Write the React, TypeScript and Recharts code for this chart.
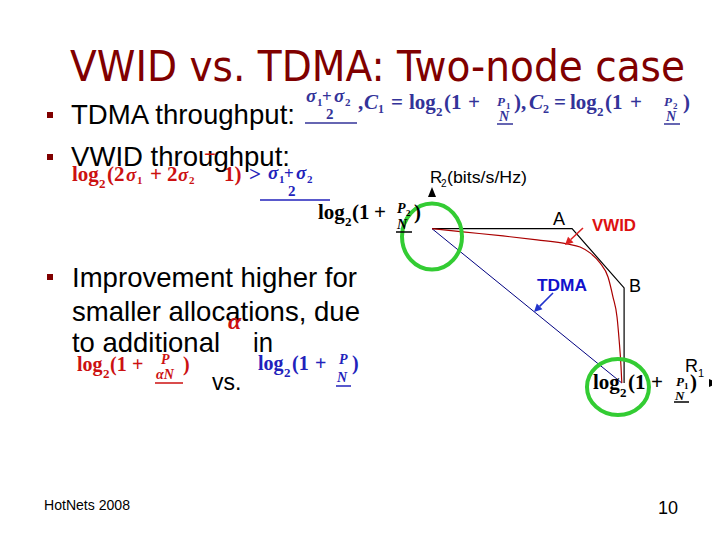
import { LineChart, Line, XAxis, YAxis, ReferenceDot } from 'recharts';

// rates in units of C1 (R1) and C2 (R2)
const vwidR1 = [0, 0.162, 0.371, 0.549, 0.706, 0.774, 0.826, 0.878, 0.92, 0.946, 0.967, 0.978, 0.988, 0.992];
const vwidR2 = [1, 0.979, 0.953, 0.927, 0.901, 0.881, 0.843, 0.778, 0.687, 0.557, 0.428, 0.279, 0.104, 0];
const tdmaR1 = [0, 0.992];
const tdmaR2 = [1, 0];
const regionR1 = [0, 0.732, 1.004, 1.004];
const regionR2 = [1, 1, 0.616, 0];
const r1Domain = [0, 1.5];
const r2Domain = [0, 1.27];

const pts = (xs: number[], ys: number[]) => xs.map((r1, i) => ({ r1, r2: ys[i] }));
const vwidData = pts(vwidR1, vwidR2);
const tdmaData = pts(tdmaR1, tdmaR2);
const regionData = pts(regionR1, regionR2);

const serif = '"Liberation Serif", "Times New Roman", serif';
const sans = '"Liberation Sans", Arial, sans-serif';
const maroon = '#800000';
const navy = '#333399';
const red = '#cc1111';
const blue = '#2222bb';

const ArrowRight = (p: any) => (
  <polygon points={`${p.cx},${p.cy} ${p.cx - 10},${p.cy - 4} ${p.cx - 10},${p.cy + 4}`} fill="#000" />
);
const ArrowUp = (p: any) => (
  <polygon points={`${p.cx},${p.cy} ${p.cx - 4},${p.cy + 10} ${p.cx + 4},${p.cy + 10}`} fill="#000" />
);
const ring = (rx: number, ry: number) => (p: any) => (
  <ellipse cx={p.cx} cy={p.cy} rx={rx} ry={ry} fill="none" stroke="#33cc33" strokeWidth={4} />
);
const pointer = (dx: number, dy: number, color: string) => (p: any) => {
  const len = Math.hypot(dx, dy);
  const ux = dx / len;
  const uy = dy / len;
  const hx = p.cx + ux * 8;
  const hy = p.cy + uy * 8;
  return (
    <g>
      <line x1={p.cx + dx} y1={p.cy + dy} x2={hx} y2={hy} stroke={color} strokeWidth={1.6} />
      <polygon points={`${p.cx},${p.cy} ${hx - uy * 4},${hy + ux * 4} ${hx + uy * 4},${hy - ux * 4}`} fill={color} />
    </g>
  );
};

function T({ x, y, s, c = '#000', f = serif, b = true, i = false, len, children }: any) {
  return (
    <text
      x={x}
      y={y}
      fontSize={s}
      fill={c}
      fontFamily={f}
      fontWeight={b ? 'bold' : 'normal'}
      fontStyle={i ? 'italic' : 'normal'}
      textLength={len}
      lengthAdjust={len ? 'spacingAndGlyphs' : undefined}
    >
      {children}
    </text>
  );
}

function Bar({ x1, x2, y, c }: any) {
  return <line x1={x1} x2={x2} y1={y} y2={y} stroke={c} strokeWidth={1.5} />;
}

function Slide() {
  return (
    <svg width={720} height={540} style={{ position: 'absolute', left: 0, top: 0, pointerEvents: 'none' }}>
      <T x={70} y={81} s={42} c={maroon} f='"DejaVu Sans", sans-serif' b={false} len={615}>
        VWID vs. TDMA: Two-node case
      </T>

      {[115, 157, 277].map((y) => (
        <rect key={y} x={47} y={y - 3} width={6} height={6} fill={maroon} />
      ))}

      <T x={71} y={124} s={28} f={sans} b={false} len={224}>TDMA throughput:</T>
      <T x={71} y={166} s={28} f={sans} b={false} len={219}>VWID throughput:</T>
      <T x={72} y={287} s={28} f={sans} b={false} len={285}>Improvement higher for</T>
      <T x={72} y={321} s={28} f={sans} b={false} len={288}>smaller allocations, due</T>
      <T x={72} y={352} s={28} f={sans} b={false} len={148}>to additional</T>
      <T x={253} y={352} s={28} f={sans} b={false} len={20}>in</T>
      <T x={228} y={329} s={24} c={red} i>α</T>

      {/* TDMA formula */}
      <T x={306} y={102} s={19} c={navy} i>σ</T>
      <T x={317} y={106} s={11} c={navy}>1</T>
      <T x={322} y={102} s={17} c={navy}>+</T>
      <T x={334} y={102} s={19} c={navy} i>σ</T>
      <T x={345} y={106} s={11} c={navy}>2</T>
      <T x={326} y={119} s={15} c={navy}>2</T>
      <Bar x1={305} x2={357} y={123} c={navy} />
      <T x={358} y={109} s={21} c={navy}>,</T>
      <T x={364} y={109} s={21} c={navy} i>C</T>
      <T x={378} y={113} s={12} c={navy}>1</T>
      <T x={391} y={109} s={21} c={navy}>=</T>
      <T x={409} y={109} s={21} c={navy}>log</T>
      <T x={436} y={116} s={13} c={navy}>2</T>
      <T x={444} y={109} s={21} c={navy}>(1</T>
      <T x={468} y={109} s={21} c={navy}>+</T>
      <T x={497} y={106} s={13} c={navy} i>P</T>
      <T x={506} y={109} s={9} c={navy}>1</T>
      <T x={499} y={121} s={14} c={navy} i>N</T>
      <Bar x1={497} x2={513} y={124} c={navy} />
      <T x={514} y={109} s={21} c={navy}>),</T>
      <T x={529} y={109} s={21} c={navy} i>C</T>
      <T x={543} y={113} s={12} c={navy}>2</T>
      <T x={554} y={109} s={21} c={navy}>=</T>
      <T x={570} y={109} s={21} c={navy}>log</T>
      <T x={597} y={116} s={13} c={navy}>2</T>
      <T x={605} y={109} s={21} c={navy}>(1</T>
      <T x={630} y={109} s={21} c={navy}>+</T>
      <T x={664} y={106} s={13} c={navy} i>P</T>
      <T x={673} y={109} s={9} c={navy}>2</T>
      <T x={666} y={121} s={14} c={navy} i>N</T>
      <Bar x1={664} x2={680} y={124} c={navy} />
      <T x={683} y={109} s={21} c={navy}>)</T>

      {/* VWID formula */}
      <T x={72} y={181} s={21} c={red}>log</T>
      <T x={99} y={188} s={13} c={red}>2</T>
      <T x={107} y={181} s={21} c={red}>(2</T>
      <T x={126} y={181} s={19} c={red} i>σ</T>
      <T x={137} y={184} s={11} c={red}>1</T>
      <T x={150} y={181} s={21} c={red}>+</T>
      <T x={167} y={181} s={21} c={red}>2</T>
      <T x={178} y={181} s={19} c={red} i>σ</T>
      <T x={189} y={184} s={11} c={red}>2</T>
      <T x={204} y={161} s={21} c={red}>−</T>
      <T x={224} y={181} s={21} c={red}>1)</T>
      <T x={249} y={181} s={21} c={blue}>&gt;</T>
      <T x={268} y={179} s={19} c={blue} i>σ</T>
      <T x={279} y={183} s={11} c={blue}>1</T>
      <T x={284} y={179} s={17} c={blue}>+</T>
      <T x={296} y={179} s={19} c={blue} i>σ</T>
      <T x={307} y={183} s={11} c={blue}>2</T>
      <T x={288} y={196} s={15} c={blue}>2</T>
      <Bar x1={260} x2={330} y={200} c={blue} />

      {/* C2 label on R2 axis */}
      <T x={318} y={219} s={21}>log</T>
      <T x={345} y={226} s={13}>2</T>
      <T x={352} y={219} s={21}>(1</T>
      <T x={374} y={219} s={21}>+</T>
      <T x={397} y={213} s={14} i>P</T>
      <T x={406} y={216} s={9}>2</T>
      <T x={397} y={229} s={14} i>N</T>
      <Bar x1={396} x2={412} y={232} c="#000" />
      <T x={414} y={219} s={21}>)</T>

      {/* alpha comparison */}
      <T x={77} y={371} s={20} c={red}>log</T>
      <T x={103} y={378} s={13} c={red}>2</T>
      <T x={110} y={371} s={20} c={red}>(1</T>
      <T x={132} y={371} s={20} c={red}>+</T>
      <T x={161} y={364} s={14} c={red} i>P</T>
      <T x={156} y={379} s={14} c={red} i>αN</T>
      <Bar x1={155} x2={183} y={383} c={red} />
      <T x={183} y={371} s={20} c={red}>)</T>
      <T x={212} y={390} s={23} f={sans} b={false}>vs.</T>
      <T x={258} y={370} s={20} c={blue}>log</T>
      <T x={284} y={377} s={13} c={blue}>2</T>
      <T x={292} y={370} s={20} c={blue}>(1</T>
      <T x={315} y={370} s={20} c={blue}>+</T>
      <T x={339} y={364} s={14} c={blue} i>P</T>
      <T x={337} y={382} s={14} c={blue} i>N</T>
      <Bar x1={336} x2={351} y={386} c={blue} />
      <T x={352} y={370} s={20} c={blue}>)</T>

      {/* C1 label on R1 axis */}
      <T x={593} y={389} s={21}>log</T>
      <T x={620} y={397} s={13}>2</T>
      <T x={628} y={389} s={21}>(1</T>
      <T x={651} y={389} s={21}>+</T>
      <T x={676} y={386} s={13} i>P</T>
      <T x={684} y={389} s={9}>1</T>
      <T x={675} y={400} s={13} i>N</T>
      <Bar x1={674} x2={689} y={402} c="#000" />
      <T x={690} y={389} s={21}>)</T>

      {/* axis titles and labels */}
      <T x={430} y={183} s={17} f={sans} b={false}>R</T>
      <T x={441} y={187} s={10} f={sans} b={false}>2</T>
      <T x={447} y={183} s={17} f={sans} b={false} len={80}>(bits/s/Hz)</T>
      <T x={685} y={372} s={18} f={sans} b={false}>R</T>
      <T x={698} y={377} s={11} f={sans} b={false}>1</T>
      <T x={553} y={225} s={18} f={sans} b={false}>A</T>
      <T x={629} y={292} s={18} f={sans} b={false}>B</T>
      <T x={592} y={231} s={16} f={sans} c="#dd1111" len={44}>VWID</T>
      <T x={537} y={291} s={16} f={sans} c="#1111cc" len={50}>TDMA</T>

      <T x={44} y={510} s={14} f={sans} b={false} len={86}>HotNets 2008</T>
      <T x={658} y={514} s={18} f={sans} b={false}>10</T>
    </svg>
  );
}

export default function App() {
  return (
    <div style={{ position: 'relative', width: 720, height: 540, margin: -8, background: '#fff', overflow: 'hidden' }}>
      <div style={{ position: 'absolute', left: 400, top: 160 }}>
        <LineChart width={320} height={270} margin={{ top: 27, right: 1, bottom: 47, left: 32 }}>
          <XAxis
            type="number"
            dataKey="r1"
            domain={r1Domain}
            tick={false}
            tickLine={false}
            height={0}
            axisLine={{ stroke: '#000', strokeWidth: 2 }}
          />
          <YAxis
            type="number"
            domain={r2Domain}
            tick={false}
            tickLine={false}
            width={0}
            axisLine={{ stroke: '#000', strokeWidth: 2 }}
          />
          <Line data={regionData} dataKey="r2" type="linear" stroke="#000" strokeWidth={1.2} dot={false} isAnimationActive={false} />
          <Line data={tdmaData} dataKey="r2" type="linear" stroke="#000080" strokeWidth={1} dot={false} isAnimationActive={false} />
          <Line data={vwidData} dataKey="r2" type="monotone" stroke="#aa0000" strokeWidth={1.2} dot={false} isAnimationActive={false} />
          <ReferenceDot x={1.5} y={0} ifOverflow="visible" shape={ArrowRight} />
          <ReferenceDot x={0} y={1.27} ifOverflow="visible" shape={ArrowUp} />
          <ReferenceDot x={0} y={0.949} ifOverflow="visible" shape={ring(30, 33)} />
          <ReferenceDot x={0.972} y={-0.026} ifOverflow="visible" shape={ring(31, 28)} />
          <ReferenceDot x={0.695} y={0.894} ifOverflow="visible" shape={pointer(18, -17, '#dd2222')} />
          <ReferenceDot x={0.533} y={0.46} ifOverflow="visible" shape={pointer(19, -19, '#2233cc')} />
        </LineChart>
      </div>
      <Slide />
    </div>
  );
}
